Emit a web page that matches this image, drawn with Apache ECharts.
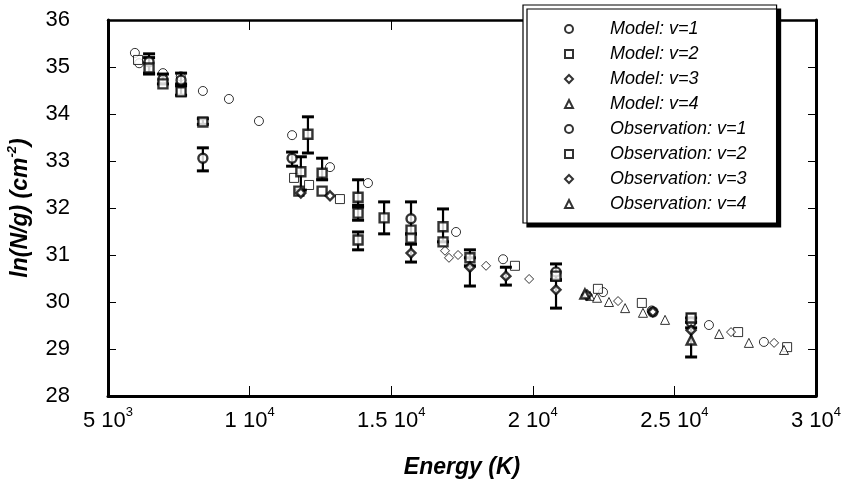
<!DOCTYPE html>
<html><head><meta charset="utf-8">
<script src="https://cdn.jsdelivr.net/npm/echarts@6/dist/echarts.min.js"></script>
<style>html,body{margin:0;padding:0;background:#fff}#c{width:845px;height:482px}</style>
</head><body><div id="c"></div>
<script>
// ---- tick labels ----
const xTickMantissa = ['5', '1', '1.5', '2', '2.5', '3'];
const xTickExponent = ['3', '4', '4', '4', '4', '4'];

// ---- model values [energy K, ln(N/g)] ----
const modelV1 = [[5950,35.30],[6100,35.08],[6940,34.87],[7570,34.80],[8350,34.49],[9270,34.32],[10330,33.85],[11500,33.55],[12840,32.87],[14180,32.53],[17290,31.49],[18950,30.91],[22480,30.21],[24200,29.82],[26220,29.51],[28160,29.15]];
const modelV2 = [[6060,35.15],[7580,34.47],[11570,32.64],[12100,32.49],[13190,32.19],[19370,30.77],[22300,30.28],[23850,29.98],[25590,29.66],[27250,29.36],[28980,29.04]];
const modelV3 = [[16900,31.09],[17040,30.94],[17360,31.00],[18350,30.77],[19870,30.49],[23010,30.02],[27000,29.36],[28520,29.13]];
const modelV4 = [[22020,30.13],[22270,30.09],[22690,30.00],[23260,29.87],[23890,29.77],[24670,29.62],[26580,29.32],[27630,29.13],[28870,28.98]];

// ---- observations [energy K, ln(N/g), low, high] ----
const obsV1 = [[6450,35.11,34.87,35.28],[6940,34.74,34.64,34.85],[7580,34.72,34.64,34.87],[8350,33.06,32.79,33.28],[11500,33.06,32.89,33.19],[15700,31.77,31.45,32.13],[20820,30.64,30.47,30.81],[24240,29.79,null,null],[25590,29.57,29.45,29.66]];
const obsV2 = [[6450,34.98,34.85,35.20],[6940,34.64,null,null],[7580,34.47,34.40,34.60],[8350,33.83,33.78,33.90],[12060,33.57,33.17,33.94],[11810,32.77,32.38,33.09],[11740,32.36,null,null],[12560,32.74,32.60,33.06],[12560,32.36,null,null],[13830,32.23,32.06,32.60],[13830,31.89,31.74,32.02],[13830,31.32,31.11,31.49],[14750,31.79,31.45,32.13],[15700,31.53,null,null],[15700,31.36,null,null],[16830,31.60,31.28,31.98],[16830,31.28,null,null],[17780,30.94,30.77,31.11],[20820,30.55,null,null],[25590,29.66,null,null]];
const obsV3 = [[11810,32.32,null,null],[12840,32.26,null,null],[15700,31.04,30.85,31.23],[17780,30.74,30.34,30.94],[19050,30.55,30.36,30.74],[20820,30.26,29.87,30.47],[21910,30.15,null,null],[24240,29.79,null,null],[25590,29.40,null,null]];
const obsV4 = [[21840,30.17,null,null],[25590,29.19,28.83,29.57]];

const FONT = 'Liberation Sans, Arial, Helvetica, sans-serif';
const chart = echarts.init(document.getElementById('c'), null, {renderer: 'canvas'});

function modelSeries(name, symbol, data) {
  return {type: 'scatter', name, symbol, symbolSize: 9, data, z: 3,
    itemStyle: {color: '#fff', borderColor: '#000', borderWidth: 1}};
}
function obsSeries(name, symbol, data) {
  return {type: 'scatter', name, symbol, symbolSize: 9, z: 5,
    data: data.map(d => [d[0], d[1]]),
    itemStyle: {color: '#fff', borderColor: '#000', borderWidth: 2.4}};
}
function errRender(params, api) {
  const x = api.value(0);
  const lo = api.coord([x, api.value(2)]);
  const hi = api.coord([x, api.value(3)]);
  const w = 6;
  const st = {stroke: '#000', lineWidth: 2.2};
  return {type: 'group', children: [
    {type: 'line', shape: {x1: lo[0], y1: lo[1], x2: hi[0], y2: hi[1]}, style: st},
    {type: 'line', shape: {x1: lo[0] - w, y1: lo[1], x2: lo[0] + w, y2: lo[1]}, style: {stroke: '#000', lineWidth: 3}},
    {type: 'line', shape: {x1: hi[0] - w, y1: hi[1], x2: hi[0] + w, y2: hi[1]}, style: {stroke: '#000', lineWidth: 3}}
  ]};
}
function errSeries(data) {
  return {type: 'custom', renderItem: errRender, z: 4, silent: true,
    data: data.filter(d => d[2] != null)};
}

const supRich = {
  base: {fontFamily: FONT, fontSize: 22, color: '#000', lineHeight: 26, verticalAlign: 'bottom'},
  sup: {fontFamily: FONT, fontSize: 13, color: '#000', lineHeight: 26, verticalAlign: 'top'}
};

const option = {
  animation: false,
  backgroundColor: '#fff',
  grid: {left: 108, right: 29, top: 20, bottom: 86, containLabel: false, outerBoundsMode: 'none'},
  legend: {
    orient: 'vertical', left: 523, top: 5,
    data: ['Model: v=1', 'Model: v=2', 'Model: v=3', 'Model: v=4',
           'Observation: v=1', 'Observation: v=2', 'Observation: v=3', 'Observation: v=4'],
    itemWidth: 8, itemHeight: 8, itemGap: 5,
    padding: [14, 30, 9, 41],
    backgroundColor: '#fff', borderColor: '#000', borderWidth: 1.2,
    shadowColor: '#000', shadowOffsetX: 4, shadowOffsetY: 4, shadowBlur: 0,
    selectedMode: false,
    textStyle: {fontFamily: FONT, fontStyle: 'italic', fontSize: 18, color: '#000', lineHeight: 20, padding: [0, 0, 0, 32]}
  },
  xAxis: [{
    type: 'value', min: 5000, max: 30000, interval: 5000, position: 'bottom',
    axisLine: {lineStyle: {color: '#000', width: 3}},
    axisTick: {inside: true, length: 10, lineStyle: {color: '#000', width: 1}},
    splitLine: {show: false},
    axisLabel: {margin: 10, formatter: (v, i) => '{base|' + xTickMantissa[i] + ' 10}{sup|' + xTickExponent[i] + '}', rich: supRich},
    name: 'Energy (K)', nameLocation: 'middle', nameGap: 60,
    nameTextStyle: {fontFamily: FONT, fontStyle: 'italic', fontWeight: 'bold', fontSize: 23, color: '#000'}
  }, {
    type: 'value', min: 5000, max: 30000, interval: 5000, position: 'top',
    axisLine: {lineStyle: {color: '#000', width: 2.5}},
    axisTick: {inside: true, length: 10, lineStyle: {color: '#000', width: 1}},
    axisLabel: {show: false}, splitLine: {show: false}
  }],
  yAxis: [{
    type: 'value', min: 28, max: 36, interval: 1, position: 'left',
    axisLine: {lineStyle: {color: '#000', width: 3}},
    axisTick: {inside: true, length: 8, lineStyle: {color: '#000', width: 1}},
    splitLine: {show: false},
    axisLabel: {margin: 38, fontFamily: FONT, fontSize: 22, color: '#000'},
    name: '{b|ln(N/g) (cm}{s|-2}{b|)}', nameLocation: 'middle', nameGap: 76,
    nameTextStyle: {rich: {
      b: {fontFamily: FONT, fontStyle: 'italic', fontWeight: 'bold', fontSize: 23, color: '#000', lineHeight: 26, verticalAlign: 'bottom'},
      s: {fontFamily: FONT, fontStyle: 'italic', fontWeight: 'bold', fontSize: 13, color: '#000', lineHeight: 26, verticalAlign: 'top'}
    }}
  }, {
    type: 'value', min: 28, max: 36, interval: 1, position: 'right',
    axisLine: {lineStyle: {color: '#000', width: 3}},
    axisTick: {inside: true, length: 8, lineStyle: {color: '#000', width: 1}},
    axisLabel: {show: false}, splitLine: {show: false}
  }],
  series: [
    modelSeries('Model: v=1', 'circle', modelV1),
    modelSeries('Model: v=2', 'rect', modelV2),
    modelSeries('Model: v=3', 'diamond', modelV3),
    modelSeries('Model: v=4', 'triangle', modelV4),
    errSeries(obsV1), errSeries(obsV2), errSeries(obsV3), errSeries(obsV4),
    obsSeries('Observation: v=1', 'circle', obsV1),
    obsSeries('Observation: v=2', 'rect', obsV2),
    obsSeries('Observation: v=3', 'diamond', obsV3),
    obsSeries('Observation: v=4', 'triangle', obsV4)
  ]
};
chart.setOption(option);
</script>
</body></html>
